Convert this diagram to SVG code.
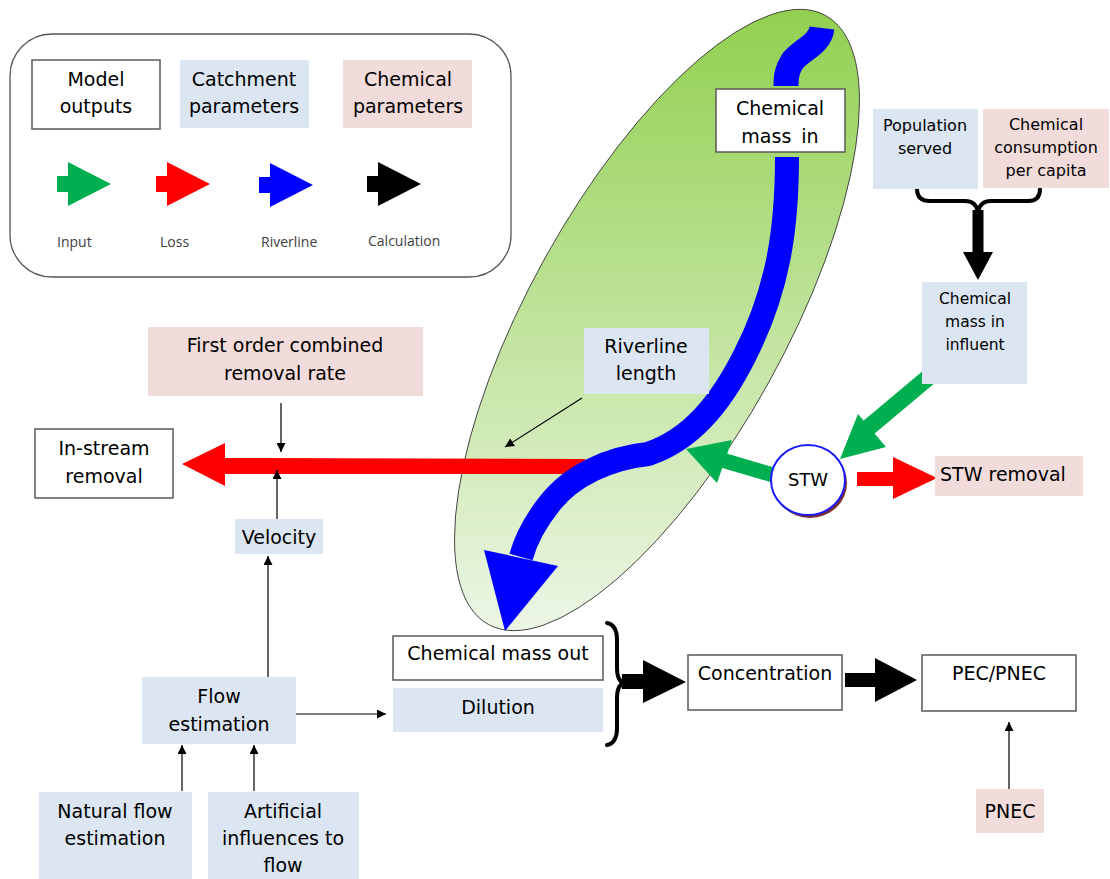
<svg xmlns="http://www.w3.org/2000/svg" width="1110" height="879" viewBox="0 0 1110 879">
<style>
.t{font-family:"DejaVu Sans",Verdana,sans-serif;font-size:19px;fill:#000;text-anchor:middle}
.s{font-size:16px}
.m{font-size:15.5px}
.lg{font-family:"Open Sans","Liberation Sans",sans-serif;font-size:14px;fill:#404040}
.out{fill:#fff;stroke:#595959;stroke-width:1.5}
.cat{fill:#dce6f2}
.chem{fill:#f2dcdb}
.thin{stroke:#000;stroke-width:1.2;fill:none;marker-end:url(#ah)}
.brace{stroke:#000;stroke-width:4;fill:none;stroke-linecap:round}
</style>
<defs>
<linearGradient id="gr" gradientUnits="userSpaceOnUse" x1="0" y1="12" x2="0" y2="633">
<stop offset="0" stop-color="#92d050"/>
<stop offset="1" stop-color="#edf6e6"/>
</linearGradient>
<marker id="ah" viewBox="0 0 10 10" refX="10" refY="5" markerWidth="9" markerHeight="9" markerUnits="userSpaceOnUse" orient="auto">
<path d="M0,0 L10,5 L0,10 z" fill="#000"/>
</marker>
<path id="legarrow" d="M0,-8 L11,-8 L11,-22 L54,0 L11,22 L11,8 L0,8 z"/>
</defs>
<rect width="1110" height="879" fill="#fff"/>

<g id="legend">
<rect x="10" y="34" width="501" height="243" rx="42" ry="42" fill="#fff" stroke="#555" stroke-width="1.3"/>
<rect class="out" x="32" y="60" width="128" height="69"/>
<text class="t" x="96" y="86">Model</text>
<text class="t" x="96" y="113">outputs</text>
<rect class="cat" x="180" y="60" width="129" height="68"/>
<text class="t" x="244" y="86">Catchment</text>
<text class="t" x="244" y="113">parameters</text>
<rect class="chem" x="343" y="60" width="129" height="68"/>
<text class="t" x="408" y="86">Chemical</text>
<text class="t" x="408" y="113">parameters</text>
<use href="#legarrow" x="57" y="184" fill="#00b050"/>
<use href="#legarrow" x="156" y="184" fill="#ff0000"/>
<use href="#legarrow" x="259" y="185" fill="#0000ff"/>
<use href="#legarrow" x="367" y="184" fill="#000"/>
<text class="lg" x="57" y="247">Input</text>
<text class="lg" x="160" y="247">Loss</text>
<text class="lg" x="261" y="247">Riverline</text>
<text class="lg" x="368" y="246">Calculation</text>
</g>

<g id="catchment">
<path d="M 825.7 15.6 A 348 128 -61 0 1 488.3 624.4 A 348 128 -61 0 1 825.7 15.6 Z" fill="url(#gr)" stroke="#444" stroke-width="1"/>
</g>

<g id="connectors">
<polygon points="585,459 225,458 225,443 182,464 225,486 225,474 585,474" fill="#ff0000"/>
<line class="thin" x1="582" y1="398" x2="505" y2="447"/>
<path d="M 822 28 C 820 45, 800 50, 792 62 C 787 70, 786 76, 786 86" fill="none" stroke="#0000ff" stroke-width="25"/>
<path d="M 787 157 C 787 230, 778 290, 745 355 C 720 405, 690 440, 648 454 C 610 458, 572 475, 550 503 C 538 518, 527 535, 521 557" fill="none" stroke="#0000ff" stroke-width="24"/>
<polygon points="484,550 558,566 505,631" fill="#0000ff"/>
<line x1="780" y1="477" x2="722" y2="460" stroke="#00b050" stroke-width="15"/>
<polygon points="686,449 732,440 717,483" fill="#00b050"/>
<line x1="930" y1="376" x2="868" y2="428" stroke="#00b050" stroke-width="17"/>
<polygon points="840,459 858,414 886,447" fill="#00b050"/>
<polygon points="857,472 893,472 893,457 937,478 893,499 893,486 857,486" fill="#ff0000"/>
<path class="brace" d="M 917 189 Q 917 201 930 201 L 965 201 Q 976 201 978 212 Q 980 201 991 201 L 1028 201 Q 1040 201 1040 189"/>
<polygon points="972.5,210 983.5,210 983.5,252 993,252 978,280 963,252 972.5,252" fill="#000"/>
<path class="brace" d="M 607 623 Q 617 625 617 640 L 617 668 Q 617 681 624 683 Q 617 685 617 698 L 617 728 Q 617 743 607 745"/>
<polygon points="622,674 643,674 643,660 686,682 643,703 643,689 622,689" fill="#000"/>
<polygon points="845,673 875,673 875,658 917,680 875,702 875,687 845,687" fill="#000"/>
<line class="thin" x1="281" y1="403" x2="281" y2="452"/>
<line class="thin" x1="277" y1="519" x2="277" y2="470"/>
<line class="thin" x1="268" y1="677" x2="268" y2="556"/>
<line class="thin" x1="296" y1="714" x2="386" y2="714"/>
<line class="thin" x1="182" y1="791" x2="182" y2="745"/>
<line class="thin" x1="254" y1="791" x2="254" y2="745"/>
<line class="thin" x1="1009" y1="792" x2="1009" y2="722"/>
</g>

<g id="chem-mass-in">
<rect class="out" x="716" y="89" width="129" height="63"/>
<text class="t" x="780" y="115">Chemical</text>
<text class="t" x="780" y="143" word-spacing="4">mass in</text>
</g>
<g id="population">
<rect class="cat" x="873" y="109" width="105" height="80"/>
<text class="t s" x="925" y="131">Population</text>
<text class="t s" x="925" y="154">served</text>
</g>
<g id="consumption">
<rect class="chem" x="983" y="109" width="126" height="79"/>
<text class="t s" x="1046" y="130">Chemical</text>
<text class="t s" x="1046" y="153">consumption</text>
<text class="t s" x="1046" y="176">per capita</text>
</g>
<g id="influent">
<rect class="cat" x="922" y="282" width="105" height="102"/>
<text class="t m" x="975" y="304">Chemical</text>
<text class="t m" x="975" y="327">mass in</text>
<text class="t m" x="975" y="350">influent</text>
</g>
<g id="riverline-length">
<rect class="cat" x="584" y="328" width="125" height="66"/>
<text class="t" x="646" y="353">Riverline</text>
<text class="t" x="646" y="380">length</text>
</g>
<g id="first-order">
<rect class="chem" x="148" y="327" width="275" height="69"/>
<text class="t" x="285" y="352">First order combined</text>
<text class="t" x="285" y="380">removal rate</text>
</g>
<g id="in-stream">
<rect class="out" x="35" y="429" width="138" height="69"/>
<text class="t" x="104" y="455">In-stream</text>
<text class="t" x="104" y="483">removal</text>
</g>
<g id="velocity">
<rect class="cat" x="235" y="519" width="88" height="35"/>
<text class="t" x="279" y="544">Velocity</text>
</g>
<g id="stw">
<ellipse cx="810" cy="483" rx="37" ry="35" fill="#7a2e2e"/>
<ellipse cx="808" cy="480" rx="37" ry="35" fill="#fff" stroke="#1a1aff" stroke-width="2"/>
<text class="t" x="808" y="486" style="font-size:18px">STW</text>
</g>
<g id="stw-removal">
<rect class="chem" x="935" y="456" width="148" height="40"/>
<text class="t" x="940" y="481" text-anchor="start" style="text-anchor:start">STW removal</text>
</g>
<g id="chem-mass-out">
<rect class="out" x="393" y="636" width="210" height="44"/>
<text class="t" x="498" y="660">Chemical mass out</text>
</g>
<g id="dilution">
<rect class="cat" x="393" y="688" width="210" height="44"/>
<text class="t" x="498" y="714">Dilution</text>
</g>
<g id="concentration">
<rect class="out" x="688" y="655" width="154" height="55"/>
<text class="t" x="765" y="680">Concentration</text>
</g>
<g id="pec-pnec">
<rect class="out" x="922" y="655" width="154" height="56"/>
<text class="t" x="999" y="680">PEC/PNEC</text>
</g>
<g id="pnec">
<rect class="chem" x="976" y="789" width="68" height="44"/>
<text class="t" x="1010" y="818">PNEC</text>
</g>
<g id="flow-estimation">
<rect class="cat" x="142" y="677" width="154" height="67"/>
<text class="t" x="219" y="703">Flow</text>
<text class="t" x="219" y="731">estimation</text>
</g>
<g id="natural-flow">
<rect class="cat" x="39" y="792" width="153" height="87"/>
<text class="t" x="115" y="818">Natural flow</text>
<text class="t" x="115" y="845">estimation</text>
</g>
<g id="artificial">
<rect class="cat" x="208" y="792" width="151" height="87"/>
<text class="t" x="283" y="818">Artificial</text>
<text class="t" x="283" y="845">influences to</text>
<text class="t" x="283" y="872">flow</text>
</g>
</svg>
